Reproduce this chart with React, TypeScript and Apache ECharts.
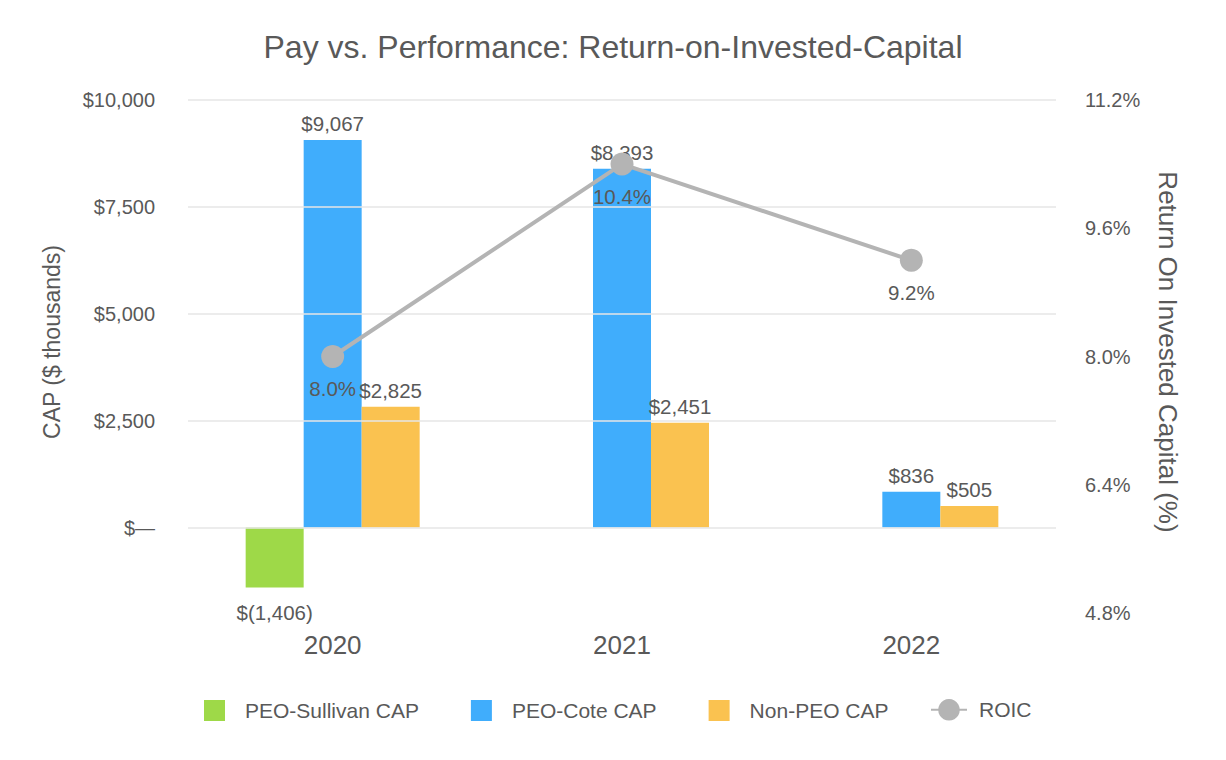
import React, { useEffect, useRef } from "react";
import * as echarts from "echarts";

const categories = ["2020", "2021", "2022"];
const sullivanCap: (number | null)[] = [-1406, null, null];
const coteCap = [9067, 8393, 836];
const nonPeoCap = [2825, 2451, 505];
const roic = [8.0, 10.4, 9.2];
const capGridValues = [0, 2500, 5000, 7500, 10000];
const seriesNames = ["PEO-Sullivan CAP", "PEO-Cote CAP", "Non-PEO CAP", "ROIC"];

const TEXT = "#595959";
const FONT = "'Liberation Sans', Arial, sans-serif";

function fmtMoney(v: number): string {
  if (v === 0) return "$—";
  const s = Math.abs(v).toLocaleString("en-US");
  return v < 0 ? "$(" + s + ")" : "$" + s;
}

export default function App() {
  const ref = useRef<HTMLDivElement>(null);
  useEffect(() => {
    if (!ref.current) return;
    const chart = echarts.init(ref.current, undefined, { renderer: "svg" });
    const barLabel = {
      show: true,
      position: "top" as const,
      distance: 6,
      color: TEXT,
      fontSize: 20.5,
      fontFamily: FONT,
      formatter: (p: any) => fmtMoney(p.value),
    };
    chart.setOption({
      animation: false,
      backgroundColor: "#ffffff",
      textStyle: { fontFamily: FONT },
      title: {
        text: "Pay vs. Performance: Return-on-Invested-Capital",
        left: "center",
        top: 26,
        textStyle: { color: TEXT, fontSize: 32, fontWeight: "normal", fontFamily: FONT },
      },
      legend: [
        {
          data: seriesNames.slice(0, 3),
          left: 204,
          top: 700,
          padding: 0,
          itemWidth: 21,
          itemHeight: 21,
          itemGap: 52,
          icon: "rect",
          textStyle: { color: TEXT, fontSize: 21, fontFamily: FONT, padding: [0, 0, 0, 15] },
        },
        {
          data: [seriesNames[3]],
          left: 930,
          top: 699,
          padding: 0,
          itemWidth: 36,
          itemHeight: 27,
          textStyle: { color: TEXT, fontSize: 21, fontFamily: FONT, padding: [0, 0, 0, 7] },
        },
      ],
      grid: { left: 188, right: 170, top: 100, bottom: 147, containLabel: false },
      xAxis: {
        type: "category",
        data: categories,
        axisLine: { show: false },
        axisTick: { show: false },
        axisLabel: { color: TEXT, fontSize: 26, fontFamily: FONT, margin: 19 },
      },
      yAxis: [
        {
          type: "value",
          min: -2000,
          max: 10000,
          interval: 500,
          splitLine: { show: false },
          axisLine: { show: false },
          axisTick: { show: false },
          axisLabel: {
            color: TEXT,
            fontSize: 20,
            fontFamily: FONT,
            margin: 33,
            showMinLabel: true,
            showMaxLabel: true,
            formatter: (v: number) => (v >= 0 && v % 2500 === 0 ? fmtMoney(v) : ""),
          },
        },
        {
          type: "value",
          min: 4.8,
          max: 11.2,
          interval: 1.6,
          splitLine: { show: false },
          axisLine: { show: false },
          axisTick: { show: false },
          axisLabel: {
            color: TEXT,
            fontSize: 20,
            fontFamily: FONT,
            margin: 29,
            formatter: (v: number) => v.toFixed(1) + "%",
          },
        },
      ],
      graphic: [
        {
          type: "text",
          x: 52,
          y: 342,
          rotation: Math.PI / 2,
          style: {
            text: "CAP ($ thousands)",
            fill: TEXT,
            fontSize: 23,
            fontFamily: FONT,
            textAlign: "center",
            textVerticalAlign: "middle",
          },
        },
        {
          type: "text",
          x: 1168,
          y: 352,
          rotation: -Math.PI / 2,
          style: {
            text: "Return On Invested Capital (%)",
            fill: TEXT,
            fontSize: 26,
            fontFamily: FONT,
            textAlign: "center",
            textVerticalAlign: "middle",
          },
        },
      ],
      series: [
        {
          name: "grid",
          type: "line",
          data: [],
          z: 1,
          silent: true,
          markLine: {
            silent: true,
            symbol: "none",
            label: { show: false },
            lineStyle: { color: "#e6e6e6", width: 1.5, type: "solid" },
            data: capGridValues.map((v) => ({ yAxis: v })),
          },
        },
        {
          name: seriesNames[0],
          type: "bar",
          data: sullivanCap,
          barWidth: 58,
          barGap: "0%",
          itemStyle: { color: "#9ed948" },
          label: { ...barLabel, position: "bottom", distance: 14 },
          z: 2,
        },
        {
          name: seriesNames[1],
          type: "bar",
          data: coteCap,
          barWidth: 58,
          barGap: "0%",
          itemStyle: { color: "#40adfc" },
          label: barLabel,
          z: 2,
        },
        {
          name: seriesNames[2],
          type: "bar",
          data: nonPeoCap,
          barWidth: 58,
          barGap: "0%",
          itemStyle: { color: "#fac250" },
          label: barLabel,
          z: 2,
        },
        {
          name: seriesNames[3],
          type: "line",
          yAxisIndex: 1,
          data: roic,
          z: 5,
          symbol: "circle",
          symbolSize: 23,
          itemStyle: { color: "#b4b4b4" },
          lineStyle: { color: "#b4b4b4", width: 4 },
          label: {
            show: true,
            position: "bottom",
            distance: 10,
            color: TEXT,
            fontSize: 20.5,
            fontFamily: FONT,
            formatter: (p: any) => Number(p.value).toFixed(1) + "%",
          },
        },
      ],
    });
    return () => chart.dispose();
  }, []);
  return (
    <div
      ref={ref}
      style={{ position: "fixed", left: 0, top: 0, width: 1226, height: 760, background: "#fff" }}
    />
  );
}
